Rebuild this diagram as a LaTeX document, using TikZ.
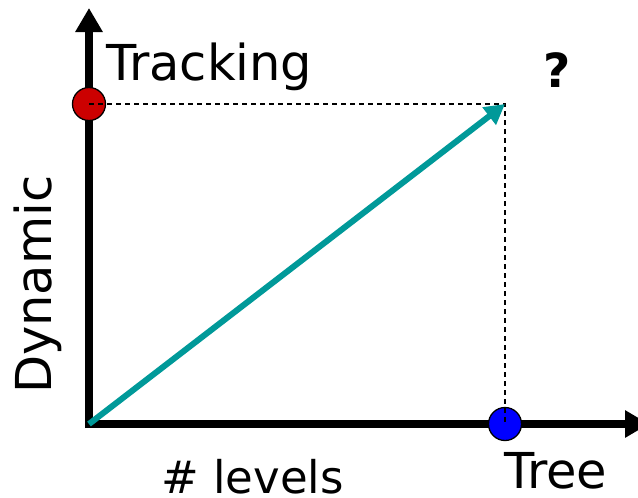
\documentclass[tikz,border=0pt]{standalone}
\usepackage{fontspec}
\setmainfont{DejaVu Sans}
\usetikzlibrary{arrows.meta}
\definecolor{arrowteal}{HTML}{009999}
\definecolor{dotred}{HTML}{CC0000}
\definecolor{dotblue}{HTML}{0000FF}
\begin{document}
\begin{tikzpicture}[x=1pt,y=-1pt,
  axis/.style={line width=8pt,-{Triangle[length=24pt,width=26pt]}},
  dot/.style={circle,draw=black,line width=1.3pt,minimum size=33pt,inner sep=0pt},
  guide/.style={line width=1.3pt,dash pattern=on 5pt off 4pt},
  trend/.style={draw=arrowteal,line width=6pt,-{Triangle[length=20pt,width=21pt]}},
  lbl/.style={inner sep=0pt,font=\fontsize{49.5}{58}\selectfont}]
\clip (0,0) rectangle (638,498);
\coordinate (O) at (89,424);
\coordinate (ybase) at (89,428);
\coordinate (xbase) at (85,424);
\coordinate (ytip) at (89,8);
\coordinate (xtip) at (649,424);
\coordinate (C) at (505,104);
\draw[axis] (ybase) -- (ytip);
\draw[axis] (xbase) -- (xtip);
\node[dot,fill=dotred] (R) at (89,104) {};
\node[dot,fill=dotblue] (B) at (505,424) {};
\draw[guide] (R.center) -- (C) -- (B.center);
\draw[trend] (O) -- (C);
\node[lbl,anchor=base west] (track) at (106,80) {Tracking};
\node[lbl,anchor=base west,font=\fontsize{47}{56}\selectfont\bfseries] (q) at (543,87) {?};
\node[lbl,anchor=base west,rotate=90] (dyn) at (51,394) {Dynamic};
\node[lbl,anchor=base west,font=\fontsize{45}{54}\selectfont] (lev) at (161,493) {\# levels};
\node[lbl,anchor=base west] (tree) at (504,488) {Tree};
\end{tikzpicture}
\end{document}
